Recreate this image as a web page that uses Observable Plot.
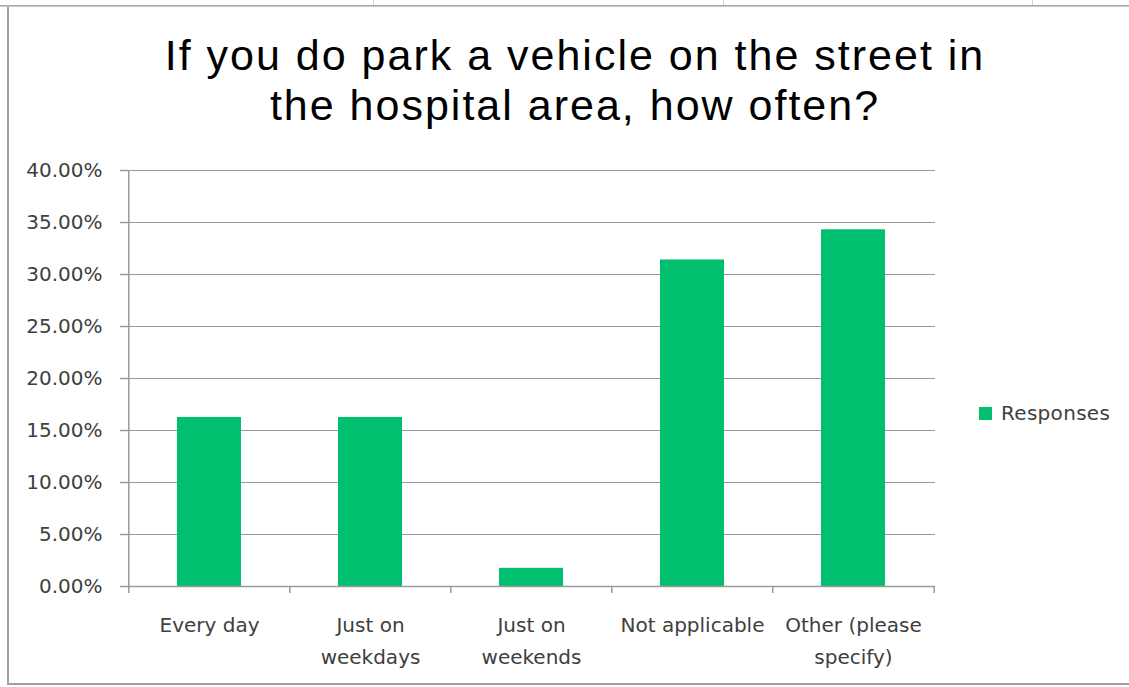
<!DOCTYPE html>
<html>
<head>
<meta charset="utf-8">
<script src="https://cdn.jsdelivr.net/npm/d3@7"></script>
<script src="https://cdn.jsdelivr.net/npm/@observablehq/plot@0.6"></script>
<style>
  html, body { margin: 0; padding: 0; background: #fff; }
  #page { position: relative; width: 1129px; height: 687px; overflow: hidden; background: #fff; }
  .hline { position: absolute; left: 0; width: 1129px; height: 1px; }
  .vsep { position: absolute; top: 0; width: 1px; height: 5px; background: #d4d4d4; }
  #frame { position: absolute; left: 7px; top: 7px; width: 1130px; height: 676px; border-left: 2px solid #a0a0a0; border-bottom: 2px solid #a0a0a0; }
  #title { position: absolute; left: 0; width: 1150px; top: 30px; text-align: center; font-family: "Liberation Sans", Arial, sans-serif; font-size: 43px; letter-spacing: 2px; line-height: 50px; color: #000; }
  #chart { position: absolute; left: 0; top: 150px; }
  #legend { position: absolute; left: 979px; top: 401px; font-family: "DejaVu Sans", sans-serif; font-size: 20px; letter-spacing: 0.3px; color: #404040; display: flex; align-items: center; }
  #legend .sw { width: 13px; height: 13px; margin-right: 9px; }
</style>
</head>
<body>
<div id="page">
  <div class="vsep" style="left:373px"></div>
  <div class="vsep" style="left:723px"></div>
  <div class="vsep" style="left:1032px"></div>
  <div class="hline" style="top:5px;background:#a8a8a8"></div>
  <div class="hline" style="top:6px;background:#c8c8c8"></div>
  <div id="frame"></div>
  <div id="title">If you do park a vehicle on the street in<br>the hospital area, how often?</div>
  <div id="chart"></div>
  <div id="legend"><div class="sw"></div><span id="legendLabel"></span></div>
</div>
<script>
const categories = ["Every day", "Just on weekdays", "Just on weekends", "Not applicable", "Other (please specify)"];
const categoryLabels = ["Every day", "Just on\nweekdays", "Just on\nweekends", "Not applicable", "Other (please\nspecify)"];
const values = [0.1625, 0.1625, 0.0175, 0.314, 0.343];
const yTicks = [0, 0.05, 0.10, 0.15, 0.20, 0.25, 0.30, 0.35, 0.40];
const seriesName = "Responses";
const barColor = "#00bf6f";

const data = categories.map((c, i) => ({category: c, value: values[i]}));
const labelOf = new Map(categories.map((c, i) => [c, categoryLabels[i]]));

const W = 1129, H = 530, mL = 128, mR = 194, mT = 20, mB = 94;
const step = (W - mL - mR) / categories.length;
const font = "DejaVu Sans, sans-serif";
const axisColor = "#9a9a9a";

const chart = Plot.plot({
  width: W, height: H,
  marginLeft: mL, marginRight: mR, marginTop: mT, marginBottom: mB,
  style: {fontFamily: font, background: "transparent", color: "#404040"},
  x: {domain: categories, paddingInner: 0.6, paddingOuter: 0.3, label: null},
  y: {domain: [0, 0.4], label: null},
  marks: [
    Plot.gridY(yTicks, {stroke: axisColor, strokeOpacity: 1, strokeWidth: 1.2}),
    Plot.barY(data, {x: "category", y: "value", fill: barColor}),
    Plot.ruleY([0], {stroke: axisColor, strokeWidth: 1.5}),
    // vertical axis line at the left edge of the first band
    Plot.ruleX([categories[0]], {x: d => d, dx: -step / 2, y1: 0, y2: 0.4, stroke: axisColor, strokeWidth: 1.5}),
    // category boundary ticks (between bands)
    Plot.ruleX(categories, {x: d => d, dx: -step / 2, y1: 0, y2: 0, insetBottom: -7, stroke: axisColor, strokeWidth: 1.5}),
    Plot.ruleX([categories[categories.length - 1]], {x: d => d, dx: step / 2, y1: 0, y2: 0, insetBottom: -7, stroke: axisColor, strokeWidth: 1.5}),
    Plot.axisY({ticks: yTicks, tickFormat: d => (d * 100).toFixed(2) + "%", tickSize: 8, tickPadding: 18,
      fontSize: 20, fill: "#404040", stroke: axisColor, strokeWidth: 1.5, label: null}),
    Plot.axisX({tickSize: 0, tickPadding: 23, tickFormat: d => labelOf.get(d), lineHeight: 1.6,
      fontSize: 20, fill: "#404040", label: null, style: {letterSpacing: "0.6px"}})
  ]
});
document.getElementById("chart").appendChild(chart);
document.querySelector("#legend .sw").style.background = barColor;
document.getElementById("legendLabel").textContent = seriesName;
</script>
</body>
</html>
